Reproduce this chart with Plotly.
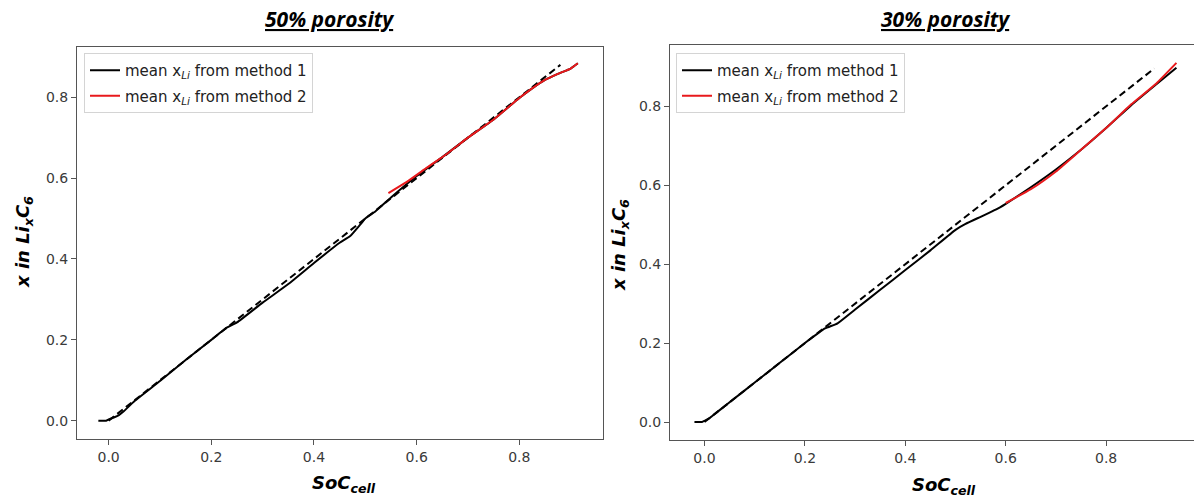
import plotly.graph_objects as go

# ---- 50 % porosity -------------------------------------------------------
soc50_m1 = [-0.02, -0.005, 0.0, 0.01, 0.02, 0.03, 0.05, 0.10, 0.15, 0.20, 0.23,
            0.25, 0.30, 0.35, 0.40, 0.45, 0.47, 0.49, 0.50, 0.52, 0.55, 0.60,
            0.65, 0.70, 0.75, 0.80, 0.825, 0.85, 0.875, 0.90, 0.914]
x50_m1 = [0.0, 0.0, 0.003, 0.008, 0.014, 0.024, 0.048, 0.098, 0.150, 0.200, 0.230,
          0.243, 0.292, 0.338, 0.390, 0.440, 0.456, 0.485, 0.500, 0.518, 0.552, 0.605,
          0.652, 0.700, 0.745, 0.798, 0.822, 0.843, 0.858, 0.871, 0.884]
soc50_m2 = [0.545, 0.58, 0.62, 0.66, 0.70, 0.75, 0.80, 0.825, 0.85, 0.875, 0.90, 0.914]
x50_m2 = [0.563, 0.590, 0.626, 0.661, 0.700, 0.745, 0.798, 0.822, 0.843, 0.858, 0.871, 0.884]
soc50_ref = [0.0, 0.88]
x50_ref = [0.0, 0.88]

# ---- 30 % porosity -------------------------------------------------------
soc30_m1 = [-0.02, -0.005, 0.0, 0.01, 0.02, 0.05, 0.10, 0.15, 0.20, 0.24, 0.265,
            0.30, 0.35, 0.40, 0.45, 0.50, 0.52, 0.55, 0.58, 0.60, 0.65, 0.70,
            0.75, 0.80, 0.85, 0.90, 0.94]
x30_m1 = [0.0, 0.0, 0.003, 0.010, 0.020, 0.050, 0.100, 0.150, 0.200, 0.237, 0.250,
          0.285, 0.335, 0.385, 0.435, 0.487, 0.502, 0.520, 0.538, 0.553, 0.595, 0.640,
          0.690, 0.745, 0.803, 0.856, 0.898]
soc30_m2 = [0.60, 0.65, 0.70, 0.75, 0.80, 0.85, 0.90, 0.94]
x30_m2 = [0.555, 0.590, 0.635, 0.690, 0.745, 0.805, 0.858, 0.910]
soc30_ref = [0.0, 0.896]
x30_ref = [0.0, 0.896]

ticks = [0.0, 0.2, 0.4, 0.6, 0.8]
label_m1 = "mean x<sub><i>Li</i></sub> from method 1"
label_m2 = "mean x<sub><i>Li</i></sub> from method 2"

W, H = 1194, 498
FONT = "DejaVu Sans"
AX = "#555555"
TXT = "#3a3a3a"


def px(x):
    return x / W


def py(y):
    return 1 - y / H


fig = go.Figure()

panels = [
    (soc50_m1, x50_m1, soc50_m2, x50_m2, soc50_ref, x50_ref, "x", "y", "legend"),
    (soc30_m1, x30_m1, soc30_m2, x30_m2, soc30_ref, x30_ref, "x2", "y2", "legend2"),
]
for s1, v1, s2, v2, sr, vr, xa, ya, lg in panels:
    fig.add_trace(go.Scatter(x=s1, y=v1, mode="lines", name=label_m1,
                             line=dict(color="black", width=2, shape="spline", smoothing=0.4),
                             xaxis=xa, yaxis=ya, legend=lg, legendgroup=lg + "a"))
    fig.add_trace(go.Scatter(x=sr, y=vr, mode="lines", showlegend=False,
                             line=dict(color="black", width=2, dash="7px,4px"),
                             xaxis=xa, yaxis=ya))
    fig.add_trace(go.Scatter(x=s2, y=v2, mode="lines", name=label_m2,
                             line=dict(color="#e8191c", width=2, shape="spline", smoothing=0.4),
                             xaxis=xa, yaxis=ya, legend=lg, legendgroup=lg + "b"))

axis_common = dict(
    showgrid=False, zeroline=False, showline=True, mirror=True,
    linecolor=AX, linewidth=1, ticks="outside", ticklen=5, tickwidth=1,
    tickcolor=AX, tickvals=ticks, tickformat=".1f",
    tickfont=dict(family=FONT, size=14, color=TXT),
)

legend_common = dict(
    bgcolor="rgba(255,255,255,0.85)", bordercolor="#d4d4d4", borderwidth=1,
    font=dict(family=FONT, size=15, color="#222222"),
    xanchor="left", yanchor="top", traceorder="grouped", tracegroupgap=3,
)

fig.update_layout(
    width=W, height=H,
    margin=dict(l=0, r=0, t=0, b=0),
    paper_bgcolor="white", plot_bgcolor="white",
    showlegend=True,
    xaxis=dict(domain=[px(77), px(603)], range=[-0.0616, 0.963], anchor="y", **axis_common),
    yaxis=dict(domain=[py(439.3), py(46.7)], range=[-0.046, 0.925], anchor="x", **axis_common),
    xaxis2=dict(domain=[px(670), 1.0], range=[-0.0687, 0.975], anchor="y2", **axis_common),
    yaxis2=dict(domain=[py(440), py(45)], range=[-0.0456, 0.9554], anchor="x2", **axis_common),
    legend=dict(x=px(84), y=py(53), **legend_common),
    legend2=dict(x=px(676), y=py(53), **legend_common),
)

title_font = dict(family="Open Sans", size=21, color="black", lineposition="under")
label_font = dict(family=FONT, size=18, color="black")

annotations = [
    dict(text="<b><i>50% porosity</i></b>", x=px(329), y=py(19), font=title_font),
    dict(text="<b><i>30% porosity</i></b>", x=px(946), y=py(19), font=title_font),
    dict(text="<b><i>SoC<sub>cell</sub></i></b>", x=px(344), y=py(484), font=label_font),
    dict(text="<b><i>SoC<sub>cell</sub></i></b>", x=px(944), y=py(486), font=label_font),
    dict(text="<b><i>x in Li<sub>x</sub>C<sub>6</sub></i></b>", x=px(24), y=py(242),
         font=label_font, textangle=-90),
    dict(text="<b><i>x in Li<sub>x</sub>C<sub>6</sub></i></b>", x=px(620), y=py(245),
         font=label_font, textangle=-90),
]
for a in annotations:
    fig.add_annotation(xref="paper", yref="paper", showarrow=False,
                       xanchor="center", yanchor="middle", **a)

fig.write_html("out.html")
